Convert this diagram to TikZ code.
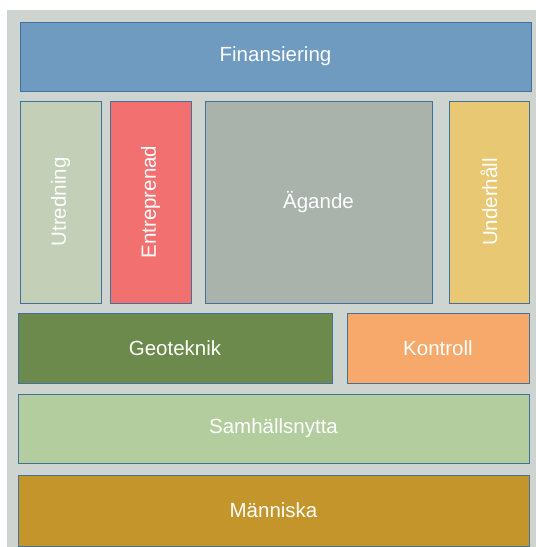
\documentclass[tikz,border=0pt]{standalone}
\usepackage{fontspec}
\setmainfont{Liberation Sans}
\definecolor{bggray}{HTML}{CED4D0}
\definecolor{edgeblue}{HTML}{41719C}
\definecolor{finblue}{HTML}{6F9BC1}
\definecolor{utrgreen}{HTML}{C3CFB6}
\definecolor{entred}{HTML}{F27070}
\definecolor{agagray}{HTML}{A9B3AB}
\definecolor{undyellow}{HTML}{E8C872}
\definecolor{geogreen}{HTML}{6B8A4B}
\definecolor{konorange}{HTML}{F6A96A}
\definecolor{samgreen}{HTML}{B3CD9F}
\definecolor{manochre}{HTML}{C4952B}
\tikzset{
  block/.style={draw=edgeblue, line width=0.8pt, text=white, inner sep=0pt,
    font=\fontsize{20.5}{24}\selectfont},
}
\begin{document}
\begin{tikzpicture}[x=1pt, y=-1pt]
      \useasboundingbox (0,0) rectangle (536,547);
      \fill[bggray] (7,10) rectangle (536,547);
      % top row
      \node[block, fill=finblue, minimum width=511pt, minimum height=69pt]
        (fin) at (275.5,56.5) {Finansiering};
      % middle row
      \node[block, fill=utrgreen, rotate=90, minimum width=202pt, minimum height=81pt]
        (utr) at (60.5,202) {Utredning};
      \node[block, fill=entred, rotate=90, minimum width=202pt, minimum height=81pt]
        (ent) at (150.5,202) {Entreprenad};
      \node[block, fill=agagray, minimum width=227pt, minimum height=202pt]
        (aga) at (318.5,202) {Ägande};
      \node[block, fill=undyellow, rotate=90, minimum width=202pt, minimum height=80pt]
        (und) at (489,202) {Underhåll};
      % lower rows
      \node[block, fill=geogreen, minimum width=314pt, minimum height=70pt]
        (geo) at (175,348) {Geoteknik};
      \node[block, fill=konorange, minimum width=182pt, minimum height=70pt]
        (kon) at (438,348) {Kontroll};
      \node[block, fill=samgreen, minimum width=511pt, minimum height=69pt]
        (sam) at (273.5,428.5) {Samhällsnytta};
      \node[block, fill=manochre, minimum width=511pt, minimum height=71pt]
        (man) at (273.5,510.5) {Människa};
    \end{tikzpicture}
\end{document}
